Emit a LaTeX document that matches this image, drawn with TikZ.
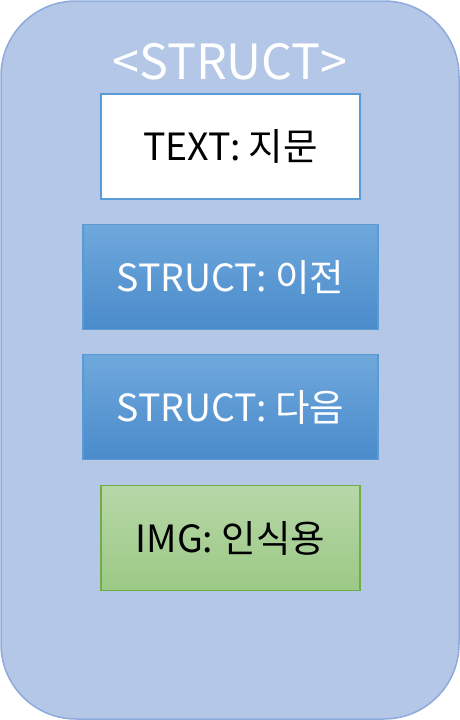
\documentclass[tikz,border=0pt]{standalone}
\usepackage{fontspec}
\setmainfont{Noto Sans CJK KR}
\definecolor{outerfill}{HTML}{B4C7E7}
\definecolor{outerline}{HTML}{8FAADC}
\definecolor{boxline}{HTML}{5B9BD5}
\definecolor{blueTop}{HTML}{6FA8DC}
\definecolor{blueBot}{HTML}{4A8BCB}
\definecolor{greenTop}{HTML}{B7D7A8}
\definecolor{greenBot}{HTML}{9BC985}
\definecolor{greenLine}{HTML}{70AD47}
\tikzset{
  field/.style={draw=boxline, line width=1.2pt, minimum height=105pt,
    inner sep=0pt, font=\fontsize{37.5}{42}\selectfont},
  bluefield/.style={field, top color=blueTop, bottom color=blueBot,
    text=white, minimum width=295pt},
}
\begin{document}
\begin{tikzpicture}[x=1pt,y=-1pt]
  \useasboundingbox (0,0) rectangle (460,720);
  \draw[outerline, fill=outerfill, line width=1.5pt, rounded corners=75pt]
    (1,1) rectangle (459,719);

  \node[text=white, font=\fontsize{48.5}{52}\selectfont] (title) at (230,62) {<STRUCT>};
  \node[field, fill=white, minimum width=259pt] (text) at (230.5,146.5) {TEXT: 지문};
  \node[bluefield] (prev) at (230.5,277) {STRUCT: 이전};
  \node[bluefield] (next) at (230.5,407) {STRUCT: 다음};
  \node[field, draw=greenLine, top color=greenTop, bottom color=greenBot,
    minimum width=259pt] (img) at (230.5,538) {IMG: 인식용};
\end{tikzpicture}
\end{document}
